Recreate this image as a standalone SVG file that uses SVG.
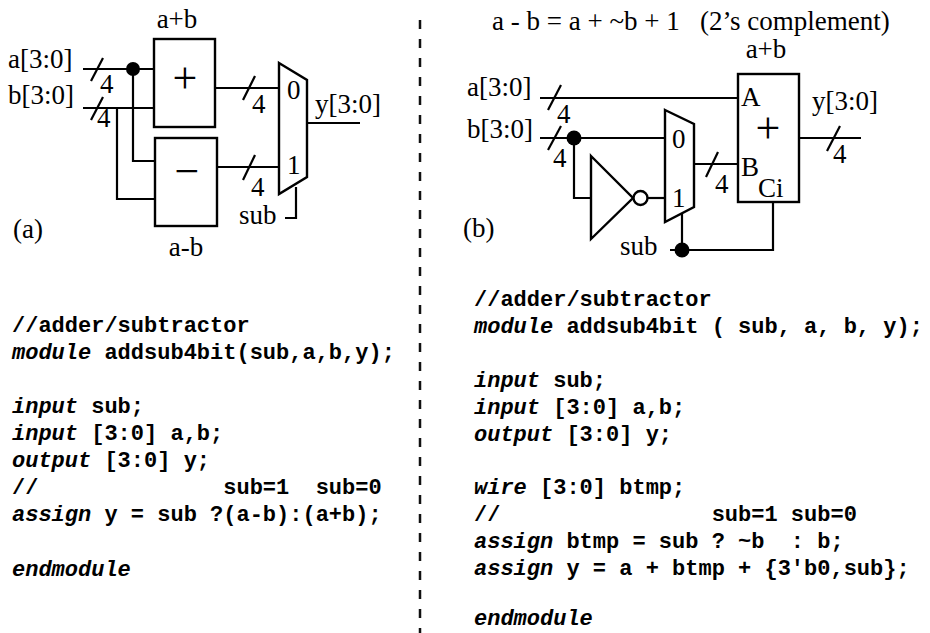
<svg xmlns="http://www.w3.org/2000/svg" width="930" height="633" viewBox="0 0 930 633">
<style>
.lbl{font-family:"Liberation Serif","Times New Roman",serif;font-size:27px;fill:#000}
.ttl{font-family:"Liberation Serif","Times New Roman",serif;font-size:27px;fill:#000;white-space:pre}
.big{font-family:"Liberation Serif","Times New Roman",serif;font-size:44px;fill:#000}
.code{font-family:"Liberation Mono","Courier New",monospace;font-size:22px;font-weight:bold;white-space:pre;fill:#000}
.kw{font-style:italic}
.w{fill:none;stroke:#000;stroke-width:2.2}
.box{fill:#fff;stroke:#000;stroke-width:2.4}
.dot{fill:#000}
.sep{fill:none;stroke:#111;stroke-width:2.5;stroke-dasharray:9 10}
</style>
<rect width="930" height="633" fill="#fff"/>

<!-- separator -->
<line class="sep" x1="420" y1="20" x2="420" y2="633"/>

<!-- ===== Panel (a) ===== -->
<g id="connectors-a">
  <path class="w" d="M83 69H154"/>
  <path class="w" d="M83 108H154"/>
  <path class="w" d="M133 69V161H155"/>
  <path class="w" d="M117 108V199H155"/>
  <path class="w" d="M215 88H279"/>
  <path class="w" d="M217 167H279"/>
  <path class="w" d="M307 123H360"/>
  <path class="w" d="M296 187V218H285"/>
  <!-- bus slashes -->
  <path class="w" d="M91 81L103 58"/>
  <path class="w" d="M91 120L103 97"/>
  <path class="w" d="M243 100L255 76"/>
  <path class="w" d="M243 180L255 155"/>
  <circle class="dot" cx="133" cy="69" r="7"/>
</g>
<g id="adder-a">
  <rect class="box" x="154" y="39" width="61" height="88"/>
  <text class="big" x="185" y="93" text-anchor="middle">+</text>
</g>
<g id="subtractor-a">
  <rect class="box" x="155" y="138" width="62" height="88"/>
  <text class="big" x="187" y="186" text-anchor="middle">−</text>
</g>
<g id="mux-a">
  <path class="box" d="M279 63L307 80V177L279 194Z"/>
  <text class="lbl" x="287" y="99">0</text>
  <text class="lbl" x="287" y="174">1</text>
</g>
<g id="labels-a">
  <text class="lbl" x="177" y="28" text-anchor="middle">a+b</text>
  <text class="lbl" x="8" y="68">a[3:0]</text>
  <text class="lbl" x="8" y="104">b[3:0]</text>
  <text class="lbl" x="100" y="93">4</text>
  <text class="lbl" x="97" y="127">4</text>
  <text class="lbl" x="252" y="113">4</text>
  <text class="lbl" x="251" y="196">4</text>
  <text class="lbl" x="315" y="113">y[3:0]</text>
  <text class="lbl" x="239" y="224">sub</text>
  <text class="lbl" x="13" y="238">(a)</text>
  <text class="lbl" x="186" y="256" text-anchor="middle">a-b</text>
</g>

<!-- ===== Panel (b) ===== -->
<text class="ttl" x="492" y="30">a - b = a + ~b + 1   (2’s complement)</text>
<g id="connectors-b">
  <path class="w" d="M540 98H738"/>
  <path class="w" d="M540 138H665"/>
  <path class="w" d="M574 138V198H591"/>
  <path class="w" d="M647.5 198H665"/>
  <path class="w" d="M694 164H738"/>
  <path class="w" d="M799 138H861"/>
  <path class="w" d="M682 213V250"/>
  <path class="w" d="M670 250H773V202"/>
  <!-- bus slashes -->
  <path class="w" d="M548 110L561 85"/>
  <path class="w" d="M548 150L561 126"/>
  <path class="w" d="M706 177L718 152"/>
  <path class="w" d="M827 151L840 126"/>
  <circle class="dot" cx="574" cy="138" r="7.5"/>
  <circle class="dot" cx="682" cy="250" r="7.5"/>
</g>
<g id="inverter-b">
  <path class="box" d="M591 156L633 198L591 239Z"/>
  <circle class="box" cx="640.5" cy="198" r="7"/>
</g>
<g id="mux-b">
  <path class="box" d="M665 110L694 124V207L665 222Z"/>
  <text class="lbl" x="672" y="148">0</text>
  <text class="lbl" x="672" y="207">1</text>
</g>
<g id="adder-b">
  <rect class="box" x="738" y="74" width="61" height="128"/>
  <text class="lbl" x="741" y="106">A</text>
  <text class="big" x="768" y="143" text-anchor="middle">+</text>
  <text class="lbl" x="741" y="176">B</text>
  <text class="lbl" x="758" y="197">Ci</text>
</g>
<g id="labels-b">
  <text class="lbl" x="766" y="58" text-anchor="middle">a+b</text>
  <text class="lbl" x="467" y="96">a[3:0]</text>
  <text class="lbl" x="467" y="138">b[3:0]</text>
  <text class="lbl" x="557" y="123">4</text>
  <text class="lbl" x="553" y="167">4</text>
  <text class="lbl" x="715" y="193">4</text>
  <text class="lbl" x="833" y="163">4</text>
  <text class="lbl" x="812" y="110">y[3:0]</text>
  <text class="lbl" x="620" y="255">sub</text>
  <text class="lbl" x="463" y="237">(b)</text>
</g>

<!-- ===== Code (a) ===== -->
<g id="code-a">
  <text class="code" x="12" y="332">//adder/subtractor</text>
  <text class="code" x="12" y="359"><tspan class="kw">module</tspan> addsub4bit(sub,a,b,y);</text>
  <text class="code" x="12" y="413"><tspan class="kw">input</tspan> sub;</text>
  <text class="code" x="12" y="440"><tspan class="kw">input</tspan> [3:0] a,b;</text>
  <text class="code" x="12" y="467"><tspan class="kw">output</tspan> [3:0] y;</text>
  <text class="code" x="12" y="494">//              sub=1  sub=0</text>
  <text class="code" x="12" y="521"><tspan class="kw">assign</tspan> y = sub ?(a-b):(a+b);</text>
  <text class="code" x="12" y="576"><tspan class="kw">endmodule</tspan></text>
</g>

<!-- ===== Code (b) ===== -->
<g id="code-b">
  <text class="code" x="474" y="306">//adder/subtractor</text>
  <text class="code" x="474" y="333"><tspan class="kw">module</tspan> addsub4bit ( sub, a, b, y);</text>
  <text class="code" x="474" y="387"><tspan class="kw">input</tspan> sub;</text>
  <text class="code" x="474" y="414"><tspan class="kw">input</tspan> [3:0] a,b;</text>
  <text class="code" x="474" y="441"><tspan class="kw">output</tspan> [3:0] y;</text>
  <text class="code" x="474" y="494"><tspan class="kw">wire</tspan> [3:0] btmp;</text>
  <text class="code" x="474" y="521">//                sub=1 sub=0</text>
  <text class="code" x="474" y="548"><tspan class="kw">assign</tspan> btmp = sub ? ~b  : b;</text>
  <text class="code" x="474" y="575"><tspan class="kw">assign</tspan> y = a + btmp + {3'b0,sub};</text>
  <text class="code" x="474" y="625"><tspan class="kw">endmodule</tspan></text>
</g>
</svg>
